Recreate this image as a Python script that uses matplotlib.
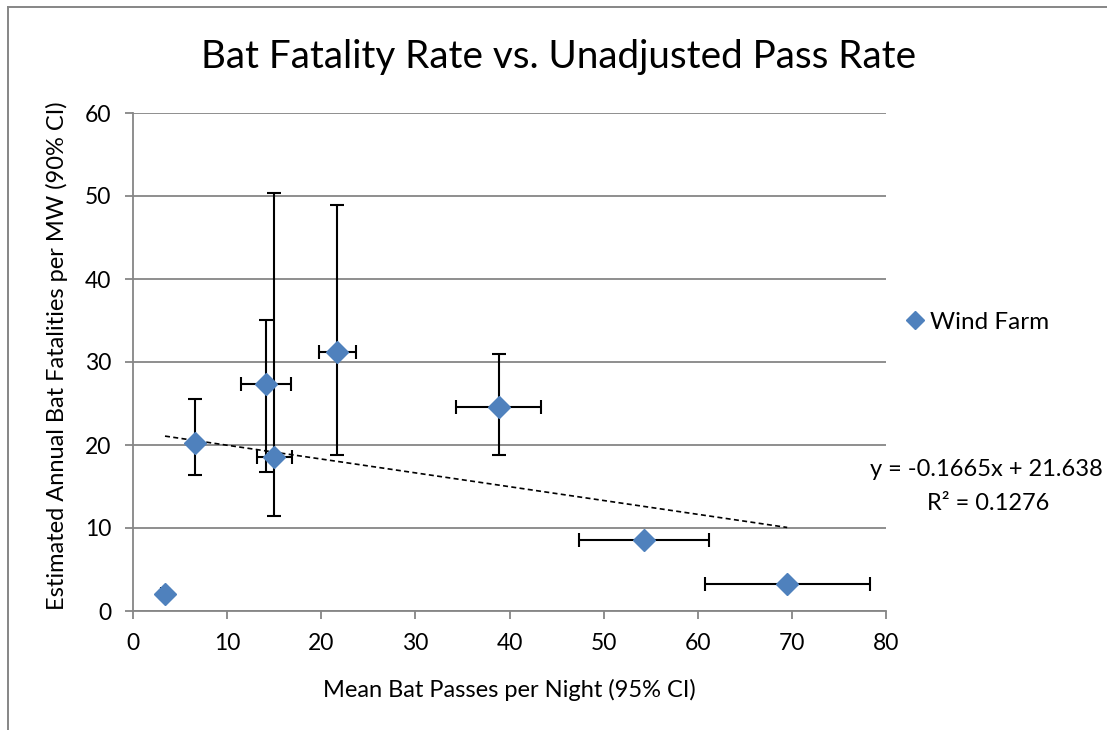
import matplotlib
matplotlib.use("Agg")
import matplotlib.pyplot as plt
import numpy as np

plt.rcParams['font.family'] = ['Lato', 'DejaVu Sans']

# Data
passes = [3.4, 6.6, 14.1, 15.0, 21.7, 38.9, 54.3, 69.5]
fatalities = [2.0, 20.3, 27.4, 18.6, 31.2, 24.6, 8.6, 3.3]
x_low = [3.0, 6.4, 11.5, 13.2, 19.8, 34.3, 47.4, 60.8]
x_high = [3.8, 6.8, 16.8, 16.9, 23.7, 43.3, 61.2, 78.3]
y_low = [1.6, 16.4, 16.7, 11.5, 18.8, 18.8, 8.6, 3.3]
y_high = [2.4, 25.5, 35.1, 50.4, 48.9, 31.0, 8.6, 3.3]
slope, intercept, r2 = -0.1665, 21.638, 0.1276

x = np.array(passes)
y = np.array(fatalities)
xerr = [x - np.array(x_low), np.array(x_high) - x]
yerr = [y - np.array(y_low), np.array(y_high) - y]

fig = plt.figure(figsize=(11.07, 7.30), dpi=100)
W, H = 1107, 730
ax = fig.add_axes([133 / W, 1 - 611 / H, (886 - 133) / W, (611 - 113) / H])

# chart border (left and top visible)
fig.add_artist(plt.Line2D([8 / W, 8 / W], [0, 1 - 7 / H], transform=fig.transFigure,
                          color='#868686', lw=1.4))
fig.add_artist(plt.Line2D([8 / W, 1], [1 - 7 / H, 1 - 7 / H], transform=fig.transFigure,
                          color='#868686', lw=1.4))

ax.errorbar(x, y, xerr=xerr, yerr=yerr, fmt='none', ecolor='black',
            elinewidth=1.5, capsize=5, capthick=1.5, zorder=3)
ax.plot(x, y, linestyle='none', marker='D', markersize=11, color='#4F81BD',
        markeredgecolor='#4F81BD', zorder=4, label='Wind Farm')

xt = np.array([x.min(), x.max()])
ax.plot(xt, slope * xt + intercept, color='black', linestyle=(0, (3, 2)),
        linewidth=1.2, zorder=2)

ax.set_xlim(0, 80)
ax.set_ylim(0, 60)
ax.set_xticks(range(0, 81, 10))
ax.set_yticks(range(0, 61, 10))
ax.grid(axis='y', color='#868686', linewidth=1.3)
ax.set_axisbelow(True)
for s in ['top', 'right']:
    ax.spines[s].set_visible(False)
for s in ['left', 'bottom']:
    ax.spines[s].set_color('#868686')
    ax.spines[s].set_linewidth(1.3)
ax.tick_params(axis='both', direction='out', length=5.5, width=1.3, color='#868686',
               labelsize=16.5, labelcolor='black', pad=10)

fig.text(509 / W, 1 - 690 / H, 'Mean Bat Passes per Night (95% CI)',
         ha='center', va='center', fontsize=17)
fig.text(57 / W, 1 - 356 / H, 'Estimated Annual Bat Fatalities per MW (90% CI)',
         ha='center', va='center', rotation=90, fontsize=17)

fig.text(559 / W, 1 - 57 / H, 'Bat Fatality Rate vs. Unadjusted Pass Rate',
         ha='center', va='center', fontsize=27.8)

ax.legend(loc='center left', bbox_to_anchor=(1.0, 0.58), frameon=False, fontsize=17.5,
          handlelength=0.6, handletextpad=0.3, markerscale=0.8)

fig.text(1103 / W, 1 - 470 / H, 'y = -0.1665x + 21.638', ha='right', va='center',
         fontsize=17)
fig.text(988 / W, 1 - 503 / H, 'R² = 0.1276', ha='center', va='center', fontsize=17)

fig.savefig('out.png', dpi=100)
